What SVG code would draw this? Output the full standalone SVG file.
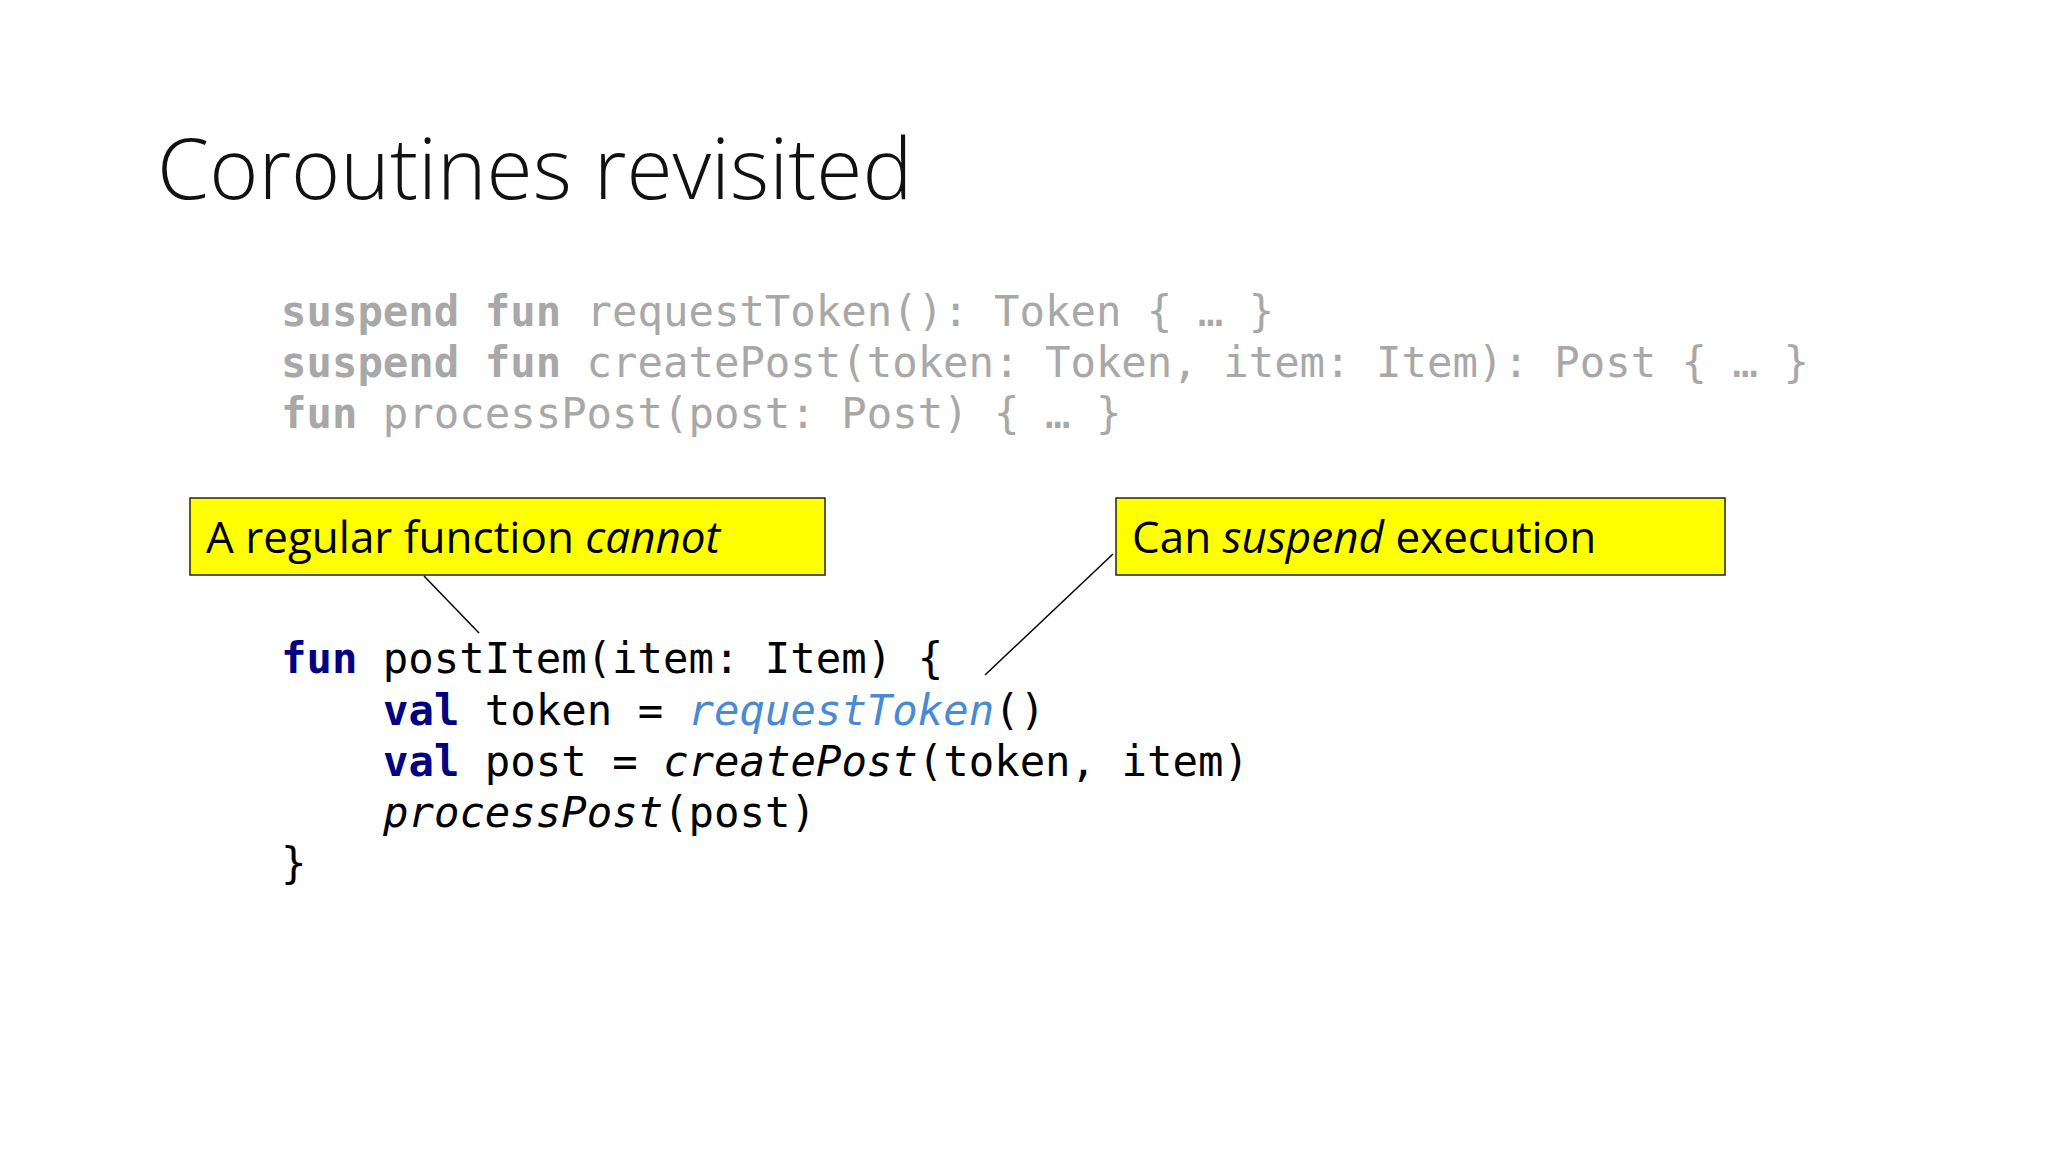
<svg xmlns="http://www.w3.org/2000/svg" width="2048" height="1152" viewBox="0 0 2048 1152">
<style>
.t{font-family:"Open Sans","Noto Sans",sans-serif;fill:#111}
.c{font-family:"DejaVu Sans Mono","Liberation Mono",monospace;font-size:42.3px}
.g{fill:#a8a8a8}
.k{font-weight:bold}
.kn{font-weight:bold;fill:#000080}
.box{fill:#ffff00;stroke:#222;stroke-width:1.5}
.lbl{font-family:"Open Sans","Noto Sans",sans-serif;font-size:44px;fill:#000}
</style>
<rect width="2048" height="1152" fill="#fff"/>
<text class="t" x="157" y="199" font-size="84" font-weight="300">Coroutines revisited</text>
<g id="signatures" class="c g" xml:space="preserve">
<text x="281" y="326"><tspan class="k">suspend fun</tspan> requestToken(): Token { … }</text>
<text x="281" y="377"><tspan class="k">suspend fun</tspan> createPost(token: Token, item: Item): Post { … }</text>
<text x="281" y="428"><tspan class="k">fun</tspan> processPost(post: Post) { … }</text>
</g>
<g id="code" class="c" fill="#000" xml:space="preserve">
<text x="281" y="673"><tspan class="kn">fun</tspan> postItem(item: Item) {</text>
<text x="383" y="725"><tspan class="kn">val</tspan> token = <tspan font-style="italic" fill="#4a8ad0">requestToken</tspan>()</text>
<text x="383" y="776"><tspan class="kn">val</tspan> post = <tspan font-style="italic">createPost</tspan>(token, item)</text>
<text x="383" y="827"><tspan font-style="italic">processPost</tspan>(post)</text>
<text x="281" y="878">}</text>
</g>
<g id="note1">
<rect class="box" x="190" y="498" width="635" height="77"/>
<text class="lbl" x="206" y="553">A regular function <tspan font-style="italic">cannot</tspan></text>
</g>
<g id="note2">
<rect class="box" x="1116" y="498" width="609" height="77"/>
<text class="lbl" x="1132" y="553">Can <tspan font-style="italic">suspend</tspan> execution</text>
</g>
<g id="connectors" stroke="#000" stroke-width="1.5">
<line x1="424" y1="576" x2="479" y2="633"/>
<line x1="1113" y1="554" x2="985" y2="675"/>
</g>
</svg>
